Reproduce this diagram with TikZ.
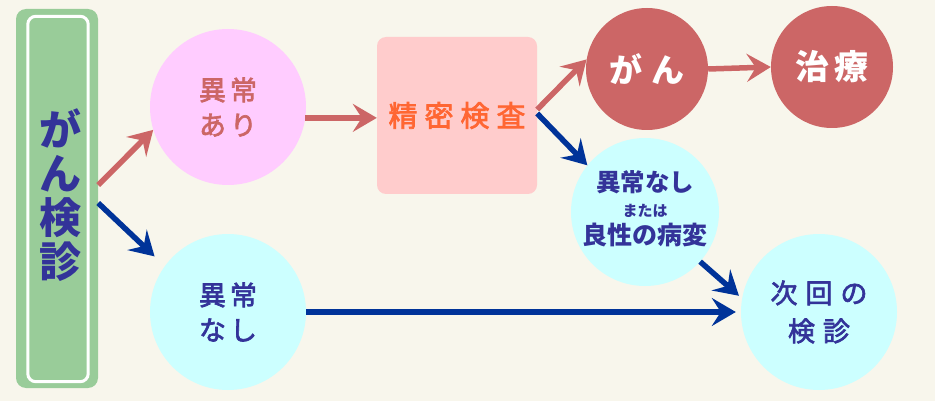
\documentclass[tikz,border=0pt]{standalone}
\usepackage{fontspec}
\setmainfont{Noto Sans CJK JP}
\newfontfamily\medfont{Noto Sans CJK JP}[FakeBold=2.5]
\usetikzlibrary{arrows.meta}
\definecolor{bgc}{HTML}{F8F6EC}
\definecolor{greenc}{HTML}{99CC99}
\definecolor{pinkc}{HTML}{FFCCFF}
\definecolor{cyanc}{HTML}{CCFFFF}
\definecolor{boxc}{HTML}{FFCCCC}
\definecolor{redc}{HTML}{CC6666}
\definecolor{bluec}{HTML}{003399}
\definecolor{navyc}{HTML}{333399}
\definecolor{orangec}{HTML}{FF6633}
\newcommand{\fsz}[2]{\fontsize{#1pt}{#2pt}\selectfont}
\begin{document}
\begin{tikzpicture}[x=1pt,y=-1pt,
  circ/.style={circle,inner sep=0pt,align=center},
  txt/.style={inner sep=0pt,text=navyc,font=\bfseries},
  redarr/.style={draw=redc,line width=5.5pt,-{Stealth[length=24pt,width=28pt,inset=9pt]}},
  bluearr/.style={draw=bluec,line width=5.5pt,-{Stealth[length=24pt,width=28pt,inset=9pt]}}]
\fill[bgc] (0,0) rectangle (935,401);
\useasboundingbox (0,0) rectangle (935,401);
% left box
\node[fill=greenc,rounded corners=10pt,minimum width=82pt,minimum height=379pt,inner sep=0pt] (kenshin) at (57,198.5) {};
\draw[white,line width=3pt,rounded corners=8pt]
  ([xshift=12pt,yshift=-7.5pt]kenshin.north west) rectangle ([xshift=-10pt,yshift=6.5pt]kenshin.south east);
\node[text=navyc,align=center,inner sep=0pt,font=\bfseries\fsz{42}{44}] (kenshintxt) at (60,195) {が\\ん\\検\\診};
% circles and box
\node[circ,fill=pinkc,minimum size=156pt,text=redc,font=\medfont\fsz{27}{35}] (ari) at (228,107) {異\hspace{4pt}常\\あ\hspace{4pt}り};
\node[circ,fill=cyanc,minimum size=156pt,text=navyc,font=\medfont\fsz{27}{35}] (nashi) at (228,312) {異\hspace{4pt}常\\な\hspace{4pt}し};
\node[fill=boxc,rounded corners=9pt,minimum width=160pt,minimum height=157pt,inner sep=0pt,text=orangec,font=\medfont\fsz{29}{34}] (seimitsu) at (457,115.5) {精\hspace{7pt}密\hspace{7pt}検\hspace{7pt}査};
\node[circ,fill=redc,minimum size=122pt,text=white,font=\bfseries\fsz{33}{36}] (gan) at (647,69) {が\hspace{9pt}ん};
\node[circ,fill=redc,minimum size=122pt,text=white,font=\bfseries\fsz{34}{36}] (chiryo) at (832,67) {治\hspace{6pt}療};
\node[circ,fill=cyanc,minimum size=148pt] (ryo) at (645,212) {};
\node[txt,font=\bfseries\fsz{24.5}{27}] (ryo1) at ([yshift=30pt]ryo.center) {異常なし};
\node[txt,font=\bfseries\fsz{15}{17}] (ryo2) at ([yshift=1pt]ryo.center) {または};
\node[txt,font=\bfseries\fsz{25}{27}] (ryo3) at ([yshift=-23pt]ryo.center) {良性の病変};
\node[circ,fill=cyanc,minimum size=156pt,text=navyc,font=\medfont\fsz{27}{38}] (jikai) at (819,312) {次\hspace{8pt}回\hspace{8pt}の\\検\hspace{8pt}診};
% arrows
\draw[redarr] ([yshift=13.5pt]kenshin.east) -- (ari.197);
\draw[bluearr,shorten >=14pt] ([yshift=-4.5pt]kenshin.east) -- (nashi.144);
\draw[redarr] (ari.-8) -- (ari.-8 -| seimitsu.west);
\draw[redarr] ([yshift=6pt]seimitsu.east) -- (gan.171);
\draw[bluearr] ([yshift=2pt]seimitsu.east) -- (ryo.141);
\draw[redarr] (gan.east) -- (chiryo.west);
\draw[bluearr,shorten >=4pt] (ryo.-42) -- (jikai.170);
\draw[bluearr,shorten >=5pt] (nashi.east) -- (jikai.west);
\end{tikzpicture}
\end{document}
